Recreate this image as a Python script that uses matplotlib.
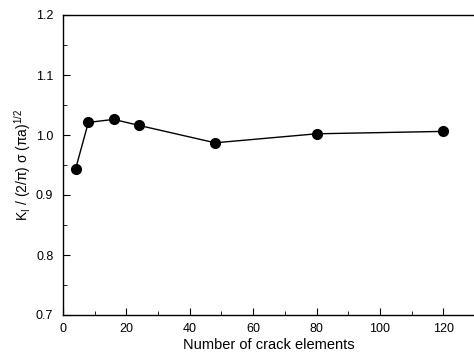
import matplotlib
matplotlib.use("Agg")
import matplotlib.pyplot as plt
from matplotlib.ticker import MultipleLocator

plt.rcParams['font.family'] = ['Liberation Sans', 'DejaVu Sans']
plt.rcParams['mathtext.fontset'] = 'custom'
plt.rcParams['mathtext.rm'] = 'Liberation Sans'
plt.rcParams['mathtext.it'] = 'Liberation Sans:italic'

# number of crack elements vs normalised SIF
n_elements = [4, 8, 16, 24, 48, 80, 120]
k_norm = [0.944, 1.021, 1.026, 1.016, 0.987, 1.002, 1.006]

fig = plt.figure(figsize=(4.74, 3.61), dpi=100)
ax = fig.add_axes([63/474, 46/361, 1.0 - 63/474 + 0.002, 300/361])

ax.plot(n_elements, k_norm, color='black', lw=1.0, marker='o', markersize=7)

ax.set_xlim(0, 130)
ax.set_ylim(0.7, 1.2)
ax.xaxis.set_major_locator(MultipleLocator(20))
ax.xaxis.set_minor_locator(MultipleLocator(10))
ax.yaxis.set_major_locator(MultipleLocator(0.1))
ax.yaxis.set_minor_locator(MultipleLocator(0.05))
ax.tick_params(which='both', direction='in', labelsize=9)
ax.tick_params(which='major', length=5)
ax.tick_params(which='minor', length=3)
ax.tick_params(axis='y', which='major', pad=7)
ax.tick_params(axis='x', which='major', pad=6)
ax.spines['right'].set_visible(False)
for s in ['left', 'bottom', 'top']:
    ax.spines[s].set_linewidth(1.0)

ax.set_xlabel('Number of crack elements', fontsize=10.5, labelpad=2)
ax.set_ylabel(r'K$_\mathrm{I}$ / (2/π) σ (πa)$^{1/2}$', fontsize=10, labelpad=2)

fig.savefig('out.png', dpi=100)
